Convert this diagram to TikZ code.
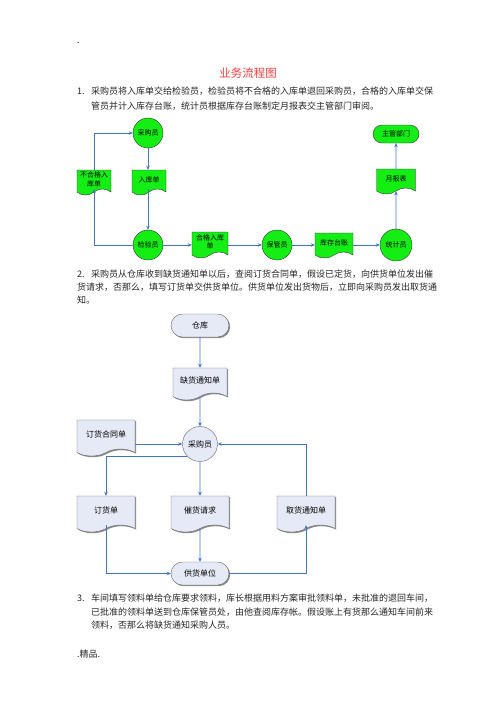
\documentclass[tikz,border=0pt]{standalone}
\usepackage{fontspec}
\setmainfont{Noto Sans CJK SC}
\usetikzlibrary{shapes.symbols, shapes.misc, shadows, arrows.meta}

\definecolor{flowgreen}{RGB}{20,238,20}
\definecolor{flowblue}{RGB}{68,114,196}
\definecolor{docfill}{RGB}{230,234,246}
\definecolor{titlered}{RGB}{255,60,60}

\begin{document}
\begin{tikzpicture}[x=1pt, y=-1pt, >={Stealth[length=4pt,width=3.5pt]},
  flow/.style={->, draw=flowblue, line width=0.8pt},
  para/.style={anchor=base west, inner sep=0pt, font=\fontsize{9}{11}\selectfont, text=black!85},
  gcircle/.style={circle, draw=black!80, fill=flowgreen, minimum size=30pt, inner sep=0pt, font=\fontsize{7}{8}\selectfont},
  gdoc/.style={tape, tape bend top=none, tape bend height=6pt, draw=black!80, fill=flowgreen, inner sep=0pt, align=center, font=\fontsize{7}{8.5}\selectfont},
  gterm/.style={rounded rectangle, draw=black!80, fill=flowgreen, minimum width=46pt, minimum height=18pt, inner sep=0pt, font=\fontsize{7}{8}\selectfont},
  bshadow/.style={general shadow={fill=black!45, shadow xshift=1.2pt, shadow yshift=-1.2pt}},
  bcircle/.style={circle, draw=black!60, fill=docfill, minimum size=35pt, inner sep=0pt, font=\fontsize{8}{9}\selectfont},
  bdoc/.style={tape, tape bend top=none, tape bend height=7pt, draw=black!60, fill=docfill, bshadow, minimum width=58pt, minimum height=36pt, inner sep=0pt, font=\fontsize{8}{9}\selectfont},
  bterm/.style={rounded rectangle, draw=black!60, fill=docfill, bshadow, minimum width=58pt, minimum height=23pt, inner sep=0pt, font=\fontsize{8}{9}\selectfont}]
  \useasboundingbox[fill=white] (0,0) rectangle (496,702);
  % page text
  \node[para] (dot) at (77,43) {.};
  \node[anchor=base, inner sep=0pt, text=titlered, font=\fontsize{11.5}{13}\selectfont] (title) at (248,77) {业务流程图};
  \node[para] (p1n) at (77,94.5) {1.};
  \node[para] (p1a) at (91,94.5) {采购员将入库单交给检验员，检验员将不合格的入库单退回采购员，合格的入库单交保};
  \node[para] (p1b) at (91,109.5) {管员并计入库存台账，统计员根据库存台账制定月报表交主管部门审阅。};
  \node[para] (p2n) at (77,277.5) {2.};
  \node[para] (p2a) at (91,277.5) {采购员从仓库收到缺货通知单以后，查阅订货合同单，假设已定货，向供货单位发出催};
  \node[para] (p2b) at (77,290.5) {货请求，否那么，填写订货单交供货单位。供货单位发出货物后，立即向采购员发出取货通};
  \node[para] (p2c) at (77,303.5) {知。};
  \node[para] (p3n) at (77,601.5) {3.};
  \node[para] (p3a) at (91,601.5) {车间填写领料单给仓库要求领料，库长根据用料方案审批领料单，未批准的退回车间，};
  \node[para] (p3b) at (91,615) {已批准的领料单送到仓库保管员处，由他查阅库存帐。假设账上有货那么通知车间前来};
  \node[para] (p3c) at (91,628.5) {领料，否那么将缺货通知采购人员。};
  \node[para] (foot) at (77,657.5) {.精品.};

  % Flow 1
  \node[gcircle] (buyer) at (148,133) {采购员};
  \node[gdoc, minimum width=34pt, minimum height=25pt] (inslip) at (149,179.5) {入库单};
  \node[gdoc, minimum width=34pt, minimum height=25pt] (reject) at (94,179.5) {不合格入\\库单};
  \node[gcircle] (checker) at (148,245) {检验员};
  \node[gdoc, minimum width=36pt, minimum height=26pt] (passed) at (210,242) {合格入库\\单};
  \node[gcircle] (keeper) at (277,245) {保管员};
  \node[gdoc, minimum width=38pt, minimum height=25pt] (ledger) at (334,242.5) {库存台账};
  \node[gcircle, minimum size=32pt] (stats) at (396,245) {统计员};
  \node[gdoc, minimum width=39pt, minimum height=25pt] (report) at (396,178.5) {月报表};
  \node[gterm] (head) at (396,134) {主管部门};
  \draw[flow] (buyer) -- (buyer |- inslip.north);
  \draw[flow] (buyer |- inslip.south) -- (checker);
  \draw[flow] (checker.west) -| (reject.south);
  \draw[flow] (reject.north) |- (buyer.west);
  \draw[flow] (checker.east) -- (checker.east -| passed.west);
  \draw[flow] (passed.east |- keeper) -- (keeper.west);
  \draw[flow] (keeper.east) -- (keeper.east -| ledger.west);
  \draw[flow] (ledger.east |- stats) -- (stats.west);
  \draw[flow] (stats) -- (report);
  \draw[flow] (report) -- (head);

  % Flow 2
  \node[bterm] (store) at (200,325.5) {仓库};
  \node[bdoc, minimum width=54pt, minimum height=32pt] (shortage) at (200,380.5) {缺货通知单};
  \node[bcircle] (buyer2) at (200,444) {采购员};
  \node[bdoc] (contract) at (106,434.5) {订货合同单};
  \node[bdoc] (order) at (106,510.5) {订货单};
  \node[bdoc] (urge) at (200,510.5) {催货请求};
  \node[bdoc] (pickup) at (306,510.5) {取货通知单};
  \node[bterm] (supplier) at (200,573.5) {供货单位};
  \draw[flow] (store) -- (shortage);
  \draw[flow] (shortage) -- (buyer2);
  \draw[flow] (contract.east |- buyer2.west) -- (buyer2.west);
  \draw[flow] (buyer2.south west) -| (order.north);
  \draw[flow] (buyer2) -- (urge);
  \draw[flow] (urge) -- (supplier);
  \draw[flow] (order.south) |- (supplier.west);
  \draw[flow] (supplier.east) -| (pickup.south);
  \draw[flow] (pickup.north) |- (buyer2.east);
\end{tikzpicture}
\end{document}
